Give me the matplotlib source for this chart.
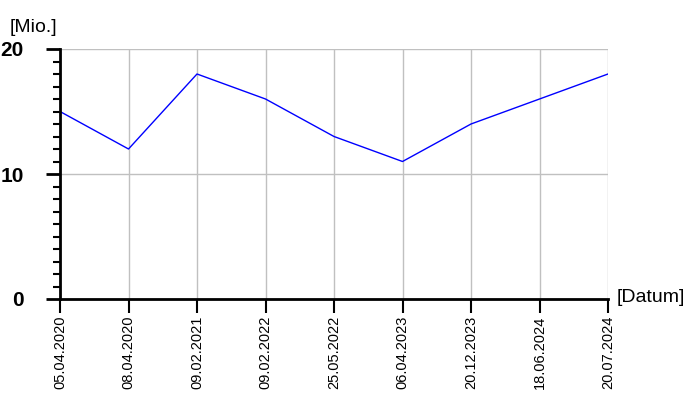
import numpy as np
import matplotlib.pyplot as plt
from matplotlib.ticker import MultipleLocator

dates = ['05.04.2020', '08.04.2020', '09.02.2021', '09.02.2022', '25.05.2022',
         '06.04.2023', '20.12.2023', '18.06.2024', '20.07.2024']
values = [15, 12, 18, 16, 13, 11, 14, 16, 18]

plt.rcParams['font.family'] = ['Liberation Sans', 'DejaVu Sans']

fig = plt.figure(figsize=(7, 4), dpi=100)
ax = fig.add_axes([60 / 700, 101 / 400, 548 / 700, 250 / 400])

x = np.arange(len(dates))
ax.plot(x, values, color='#0000ff', linewidth=1.0, zorder=3)

ax.set_xlim(0, len(dates) - 1)
ax.set_ylim(0, 20)
ax.set_xticks(x)
ax.set_xticklabels(dates, rotation=90, fontsize=10.5)
ax.set_yticks([0, 10, 20])
ax.set_yticklabels(['0', '10', '20'], fontsize=15, fontweight='bold')
ax.yaxis.set_minor_locator(MultipleLocator(1))

ax.grid(True, which='major', color='#c0c0c0', linewidth=1.0, zorder=0)
for s in ['top', 'right']:
    ax.spines[s].set_visible(False)
for s in ['left', 'bottom']:
    ax.spines[s].set_linewidth(2)
    ax.spines[s].set_color('black')
    ax.spines[s].set_zorder(4)

ax.tick_params(axis='y', which='major', length=10, width=2, pad=16)
ax.tick_params(axis='y', which='minor', length=5, width=1.5)
ax.tick_params(axis='x', which='major', length=10, width=1.5, pad=2)

fig.text(10 / 700, 1 - 28 / 400, '[Mio.]', fontsize=14, va='center', ha='left')
fig.text(617 / 700, 1 - 298 / 400, '[Datum]', fontsize=14, va='center', ha='left')

fig.savefig('out.png', dpi=100)
